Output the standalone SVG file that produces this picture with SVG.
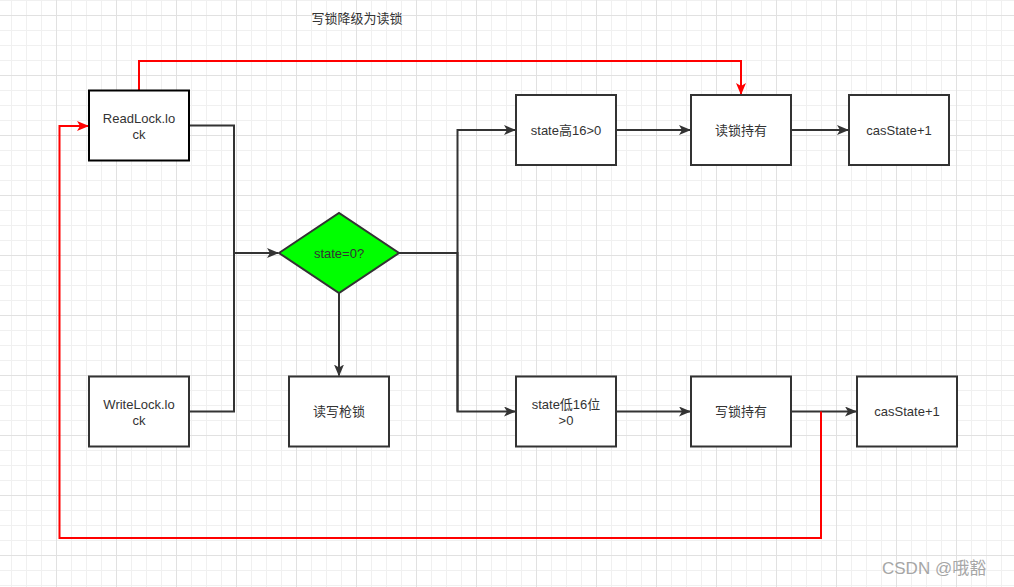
<svg xmlns="http://www.w3.org/2000/svg" width="1014" height="587" viewBox="0 0 1014 587">
  <defs>
    <pattern id="grid" x="-4" y="15" width="60" height="60" patternUnits="userSpaceOnUse">
      <path d="M15.5 0V60M30.5 0V60M45.5 0V60M0 15.5H60M0 30.5H60M0 45.5H60" stroke="#f0f0f0" stroke-width="1" fill="none"/>
      <path d="M0.5 0V60M0 0.5H60" stroke="#e1e1e1" stroke-width="1" fill="none"/>
    </pattern>
    <marker id="arr" viewBox="0 0 12 10" refX="11" refY="5" markerWidth="12" markerHeight="10" markerUnits="userSpaceOnUse" orient="auto">
      <path d="M0 0L12 5L0 10L3 5Z" fill="#333"/>
    </marker>
    <marker id="arrRed" viewBox="0 0 12 10" refX="11" refY="5" markerWidth="12" markerHeight="10" markerUnits="userSpaceOnUse" orient="auto">
      <path d="M0 0L12 5L0 10L3 5Z" fill="#ff0000"/>
    </marker>
  </defs>
  <style>
    .box { fill: #ffffff; stroke: #333333; stroke-width: 2; }
    .box.dark { stroke: #000000; }
    .lbl { font-family: "Liberation Sans", "Noto Sans CJK SC", sans-serif; font-size: 13px; fill: #333333; text-anchor: middle; }
    .edge { fill: none; stroke: #333333; stroke-width: 2; marker-end: url(#arr); }
    .edge.plain { marker-end: none; }
    .red { fill: none; stroke: #ff0000; stroke-width: 2; }
    .red.arrow { marker-end: url(#arrRed); }
  </style>
  <rect width="1014" height="587" fill="#ffffff"/>
  <rect width="1014" height="587" fill="url(#grid)"/>

  <text class="lbl" x="357" y="23">写锁降级为读锁</text>

  <g id="connectors">
    <path class="edge plain" d="M189 125.5H234V253"/>
    <path class="edge" d="M189 411.5H234V253H278"/>
    <path class="edge plain" d="M399 253H457.5V411.5"/>
    <path class="edge" d="M457.5 253V130H515"/>
    <path class="edge" d="M457.5 253V411.5H515"/>
    <path class="edge" d="M339 293V375.5"/>
    <path class="edge" d="M616 130H690"/>
    <path class="edge" d="M791 130H848"/>
    <path class="edge" d="M616 411.5H690"/>
    <path class="edge" d="M791 411.5H856"/>
    <path class="red arrow" d="M139 90.5V61H741V94"/>
    <path class="red arrow" d="M821 411.5V538H59.5V126H88"/>
  </g>

  <g id="readlock">
    <rect class="box dark" x="89" y="90.5" width="100" height="70"/>
    <text class="lbl" x="139" y="122.5">ReadLock.lo</text>
    <text class="lbl" x="139" y="138.5">ck</text>
  </g>
  <g id="writelock">
    <rect class="box" x="89" y="376.5" width="100" height="70"/>
    <text class="lbl" x="139" y="408.5">WriteLock.lo</text>
    <text class="lbl" x="139" y="424.5">ck</text>
  </g>
  <g id="decision">
    <polygon points="279,253 339,213 399,253 339,293" fill="#00ff00" stroke="#333333" stroke-width="2"/>
    <text class="lbl" x="339" y="257.5">state=0?</text>
  </g>
  <g id="contend">
    <rect class="box" x="289" y="376.5" width="100" height="70"/>
    <text class="lbl" x="339" y="416">读写枪锁</text>
  </g>
  <g id="high16">
    <rect class="box" x="516" y="95" width="100" height="70"/>
    <text class="lbl" x="566" y="134.5">state高16&gt;0</text>
  </g>
  <g id="readhold">
    <rect class="box" x="691" y="95" width="100" height="70"/>
    <text class="lbl" x="741" y="134.5">读锁持有</text>
  </g>
  <g id="cas-top">
    <rect class="box" x="849" y="95" width="100" height="70"/>
    <text class="lbl" x="899" y="134.5">casState+1</text>
  </g>
  <g id="low16">
    <rect class="box" x="516" y="376.5" width="100" height="70"/>
    <text class="lbl" x="566" y="408.5">state低16位</text>
    <text class="lbl" x="566" y="424.5">&gt;0</text>
  </g>
  <g id="writehold">
    <rect class="box" x="691" y="376.5" width="100" height="70"/>
    <text class="lbl" x="741" y="416">写锁持有</text>
  </g>
  <g id="cas-bottom">
    <rect class="box" x="857" y="376.5" width="100" height="70"/>
    <text class="lbl" x="907" y="416">casState+1</text>
  </g>

  <text x="882" y="574" font-family="Liberation Sans, Noto Sans CJK SC, sans-serif" font-size="17" fill="#a6a6a6">CSDN @哦豁</text>
</svg>
